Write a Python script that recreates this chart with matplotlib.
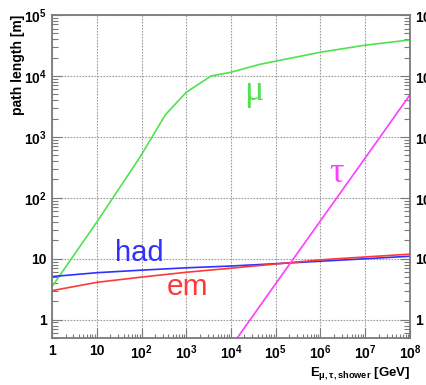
"""Path length of muons, taus and showers in ice versus energy."""

import math

import matplotlib
matplotlib.use("Agg")
import matplotlib.pyplot as plt
from matplotlib.ticker import FuncFormatter, LogLocator, NullFormatter

plt.rcParams["font.family"] = ["Liberation Sans", "DejaVu Sans"]
plt.rcParams["mathtext.fontset"] = "custom"
plt.rcParams["mathtext.rm"] = "Liberation Sans:bold"
plt.rcParams["mathtext.it"] = "Liberation Sans:bold"
plt.rcParams["mathtext.bf"] = "Liberation Sans:bold"
plt.rcParams["mathtext.default"] = "rm"

# energies [GeV] and path lengths [m]
muon_e = [1, 10, 93, 340, 1e3, 3.6e3, 1e4, 4.4e4, 1e5, 1e6, 1e7, 1e8]
muon_len = [3.5, 40, 470, 2300, 5400, 1.0e4, 1.15e4, 1.55e4, 1.75e4, 2.45e4, 3.2e4, 3.9e4]

had_e = [1, 10, 1e2, 1e3, 1e4, 1e5, 1e6, 1e7, 1e8]
had_len = [5.1, 5.9, 6.5, 7.1, 7.6, 8.3, 9.1, 10.0, 11.0]

em_e = [1, 10, 1e2, 1e3, 1e4, 1e5, 1e6, 1e7, 1e8]
em_len = [3.0, 4.1, 5.0, 6.0, 7.0, 8.2, 9.6, 10.7, 11.9]

tau_e = [1e4, 1e5, 1e6, 1e7, 1e8]
tau_len = [0.36, 3.9, 42, 450, 4900]

GREEN = "#4ee34e"
BLUE = "#3030ff"
RED = "#ff3838"
MAGENTA = "#ff3cff"
FRAME = "#7a7a7a"


def decade_label(v, pos):
    if v == 1:
        return "1"
    if v == 10:
        return "10"
    exp = int(round(math.log10(v)))
    return rf"$10^{{{exp}}}$"


fig = plt.figure(figsize=(4.27, 3.85), dpi=100)
ax = fig.add_axes([0.122, 0.122, 0.838, 0.839])

ax.plot(muon_e, muon_len, color=GREEN, lw=1.2)
ax.plot(had_e, had_len, color=BLUE, lw=1.2)
ax.plot(em_e, em_len, color=RED, lw=1.2)
ax.plot(tau_e, tau_len, color=MAGENTA, lw=1.2)

ax.set_xscale("log")
ax.set_yscale("log")
ax.set_xlim(1, 1e8)
ax.set_ylim(0.5, 1e5)

ax.xaxis.set_major_locator(LogLocator(base=10, numticks=20))
ax.yaxis.set_major_locator(LogLocator(base=10, numticks=20))
ax.xaxis.set_minor_locator(LogLocator(base=10, subs=range(2, 10), numticks=20))
ax.yaxis.set_minor_locator(LogLocator(base=10, subs=range(2, 10), numticks=20))
ax.xaxis.set_major_formatter(FuncFormatter(decade_label))
ax.yaxis.set_major_formatter(FuncFormatter(decade_label))
ax.xaxis.set_minor_formatter(NullFormatter())
ax.yaxis.set_minor_formatter(NullFormatter())

ax.tick_params(which="both", direction="in", top=False, right=True,
               labelright=True, color=FRAME, labelsize=10, width=0.8)
ax.tick_params(which="major", length=7, pad=4)
ax.tick_params(axis="x", which="minor", length=3)
ax.tick_params(axis="y", which="minor", length=4)
for lab in ax.get_xticklabels() + ax.get_yticklabels():
    lab.set_fontweight("bold")

for sp in ax.spines.values():
    sp.set_color(FRAME)
    sp.set_linewidth(1.3)

ax.grid(True, which="major", color="#9c9c9c", lw=0.8, ls=(0, (1.5, 1.2)))

ax.set_ylabel("path length [m]", fontsize=10, fontweight="bold", loc="top")
ax.yaxis.set_label_coords(-0.075, 1.0)
ax.set_xlabel(r"E$_{\mu,\tau,\mathrm{shower}}$ [GeV]", fontsize=9.5,
              fontweight="bold", loc="right", labelpad=2)

ax.text(3.2e4, 4.0e3, "μ", color=GREEN, fontsize=26, ha="center",
        va="baseline", family="Liberation Serif")
ax.text(2.3e6, 185, "τ", color=MAGENTA, fontsize=26, ha="center",
        va="baseline", family="Liberation Serif")
ax.text(25, 9.1, "had", color=BLUE, fontsize=21, ha="left", va="baseline")
ax.text(363, 2.54, "em", color=RED, fontsize=21.5, ha="left", va="baseline")

fig.savefig("out.png", dpi=100)
